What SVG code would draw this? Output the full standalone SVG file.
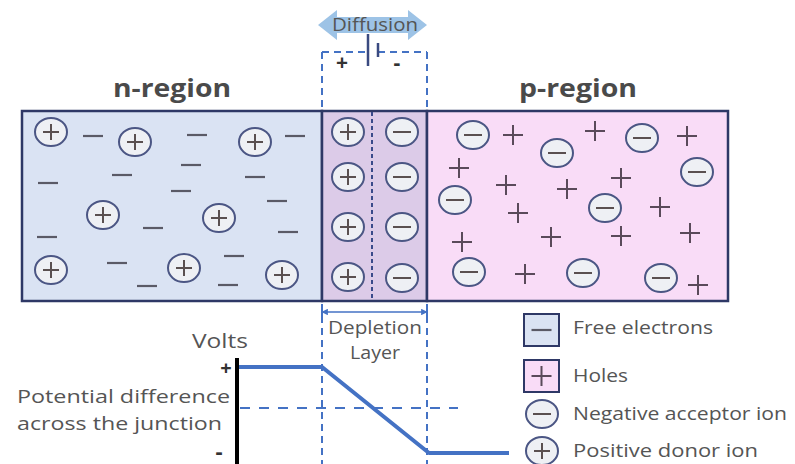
<svg xmlns="http://www.w3.org/2000/svg" width="795" height="464" viewBox="0 0 795 464">
  <style>
    .ion { fill: #eef0f4; stroke: #4b5684; stroke-width: 2; }
    .sign { stroke: #5a5050; stroke-width: 2; fill: none; }
    .elec { stroke: #5a5a66; stroke-width: 2.2; fill: none; }
    .hole { stroke: #5a4a5a; stroke-width: 2; fill: none; }
    .frame { stroke: #2e3866; stroke-width: 2.5; }
    .guide { stroke: #4472c4; stroke-width: 2; fill: none; stroke-dasharray: 7 5; }
    .lbl { font-family: "Open Sans", "Liberation Sans", sans-serif; fill: #555; }
    .pm { font-family: "Open Sans", "Liberation Sans", sans-serif; font-weight: bold; fill: #333; text-anchor: middle; }
    .title { font-family: "Open Sans", "Liberation Sans", sans-serif; font-weight: bold; font-size: 25px; fill: #4a4a4a; text-anchor: middle; }
  </style>
  <defs>
    <!-- ion symbols -->
    <g id="pion">
      <ellipse class="ion" rx="16" ry="14"/>
      <path class="sign" d="M-8 0H8M0 -8V8"/>
    </g>
    <g id="nion">
      <ellipse class="ion" rx="16" ry="14"/>
      <path class="sign" d="M-9 0H9"/>
    </g>
    <path id="e" class="elec" d="M-10 0H10"/>
    <path id="h" class="hole" d="M-10 0H10M0 -10V10"/>
    <marker id="dimL" viewBox="0 0 10 10" refX="1" refY="5" markerWidth="5" markerHeight="5" orient="auto">
      <path d="M10 0L0 5L10 10Z" fill="#4472c4"/>
    </marker>
    <marker id="dimR" viewBox="0 0 10 10" refX="9" refY="5" markerWidth="5" markerHeight="5" orient="auto">
      <path d="M0 0L10 5L0 10Z" fill="#4472c4"/>
    </marker>
  </defs>

  <rect width="795" height="464" fill="#ffffff"/>

  <!-- junction guide lines -->
  <g id="connectors">
    <path class="guide" d="M322 52V464M427 52V464"/>
    <path class="guide" d="M322 52H368M378 52H427"/>
    <!-- cell symbol -->
    <path d="M368 34V66" stroke="#3a4a80" stroke-width="2.5"/>
    <path d="M378 43V57" stroke="#3a4a80" stroke-width="2.5"/>
    <!-- depletion width -->
    <path d="M322 312H427" stroke="#4472c4" stroke-width="1.3" marker-start="url(#dimL)" marker-end="url(#dimR)"/>
    <path d="M322 305V319M427 305V319" stroke="#4472c4" stroke-width="2"/>
  </g>

  <!-- diffusion arrow -->
  <g id="diffusion">
    <path d="M318 25L337 10V17H408V10L427 25L408 40V33H337V40Z" fill="#9dc3e6"/>
    <text class="lbl" x="375" y="31" font-size="18" text-anchor="middle" textLength="86" lengthAdjust="spacingAndGlyphs" fill="#4a5570">Diffusion</text>
    <text class="pm" x="342" y="70" font-size="21">+</text>
    <text class="pm" x="397" y="70" font-size="21">-</text>
  </g>

  <text class="title" x="172" y="97" textLength="118" lengthAdjust="spacingAndGlyphs">n-region</text>
  <text class="title" x="578" y="97" textLength="118" lengthAdjust="spacingAndGlyphs">p-region</text>

  <!-- n-type region -->
  <g id="n-region">
    <rect x="22" y="111" width="300" height="190" fill="#dae3f3" class="frame"/>
    <use href="#pion" x="51" y="132"/>
    <use href="#pion" x="135" y="142"/>
    <use href="#pion" x="255" y="142"/>
    <use href="#pion" x="103" y="215"/>
    <use href="#pion" x="219" y="218"/>
    <use href="#pion" x="51" y="270"/>
    <use href="#pion" x="184" y="268"/>
    <use href="#pion" x="282" y="275"/>
    <use href="#e" x="93" y="136"/>
    <use href="#e" x="197" y="135"/>
    <use href="#e" x="295" y="136"/>
    <use href="#e" x="191" y="165"/>
    <use href="#e" x="122" y="175"/>
    <use href="#e" x="48" y="183"/>
    <use href="#e" x="255" y="177"/>
    <use href="#e" x="181" y="191"/>
    <use href="#e" x="277" y="201"/>
    <use href="#e" x="153" y="228"/>
    <use href="#e" x="47" y="237"/>
    <use href="#e" x="288" y="232"/>
    <use href="#e" x="234" y="256"/>
    <use href="#e" x="117" y="263"/>
    <use href="#e" x="147" y="286"/>
    <use href="#e" x="228" y="285"/>
  </g>

  <!-- depletion layer -->
  <g id="depletion">
    <rect x="322" y="111" width="105" height="190" fill="#dccbe8" class="frame"/>
    <path d="M372 112V300" stroke="#3a4a8a" stroke-width="2" stroke-dasharray="4 3"/>
    <use href="#pion" x="348" y="132"/>
    <use href="#pion" x="348" y="177"/>
    <use href="#pion" x="348" y="227"/>
    <use href="#pion" x="348" y="277"/>
    <use href="#nion" x="402" y="132"/>
    <use href="#nion" x="402" y="177"/>
    <use href="#nion" x="402" y="227"/>
    <use href="#nion" x="402" y="278"/>
  </g>

  <!-- p-type region -->
  <g id="p-region">
    <rect x="427" y="111" width="301" height="190" fill="#f9dcf7" class="frame"/>
    <use href="#nion" x="473" y="135"/>
    <use href="#nion" x="557" y="153"/>
    <use href="#nion" x="642" y="138"/>
    <use href="#nion" x="697" y="172"/>
    <use href="#nion" x="455" y="200"/>
    <use href="#nion" x="605" y="208"/>
    <use href="#nion" x="469" y="272"/>
    <use href="#nion" x="583" y="273"/>
    <use href="#nion" x="661" y="278"/>
    <use href="#h" x="513" y="135"/>
    <use href="#h" x="595" y="131"/>
    <use href="#h" x="687" y="136"/>
    <use href="#h" x="459" y="168"/>
    <use href="#h" x="506" y="185"/>
    <use href="#h" x="567" y="189"/>
    <use href="#h" x="621" y="178"/>
    <use href="#h" x="518" y="213"/>
    <use href="#h" x="660" y="207"/>
    <use href="#h" x="462" y="242"/>
    <use href="#h" x="551" y="237"/>
    <use href="#h" x="621" y="236"/>
    <use href="#h" x="690" y="233"/>
    <use href="#h" x="525" y="274"/>
    <use href="#h" x="698" y="285"/>
  </g>

  <g id="depletion-label">
    <text class="lbl" x="375" y="334" font-size="19" text-anchor="middle" textLength="94" lengthAdjust="spacingAndGlyphs" fill="#808080">Depletion</text>
    <text class="lbl" x="375" y="359" font-size="19" text-anchor="middle" textLength="50" lengthAdjust="spacingAndGlyphs" fill="#808080">Layer</text>
  </g>

  <!-- potential plot -->
  <g id="potential">
    <path d="M240 408H458" stroke="#4472c4" stroke-width="2" stroke-dasharray="10 9"/>
    <path d="M239 367H322L429 453H509" stroke="#4472c4" stroke-width="4" fill="none" stroke-linejoin="round"/>
    <path d="M237 358V464" stroke="#000" stroke-width="4"/>
    <text class="lbl" x="220" y="348" font-size="20" text-anchor="middle" textLength="56" lengthAdjust="spacingAndGlyphs">Volts</text>
    <text class="pm" x="226" y="375" font-size="20">+</text>
    <text class="pm" x="219" y="459" font-size="22">-</text>
    <text class="lbl" x="17" y="403" font-size="19" textLength="213" lengthAdjust="spacingAndGlyphs">Potential difference</text>
    <text class="lbl" x="17" y="430" font-size="19" textLength="205" lengthAdjust="spacingAndGlyphs">across the junction</text>
  </g>

  <!-- legend -->
  <g id="legend-electrons">
    <rect x="524" y="314" width="35" height="32" fill="#dae3f3" stroke="#2e3866" stroke-width="2"/>
    <use href="#e" x="541.5" y="330"/>
    <text class="lbl" x="573" y="334" font-size="18" textLength="140" lengthAdjust="spacingAndGlyphs">Free electrons</text>
  </g>
  <g id="legend-holes">
    <rect x="524" y="360" width="35" height="32" fill="#f9dcf7" stroke="#2e3866" stroke-width="2"/>
    <use href="#h" x="541.5" y="376"/>
    <text class="lbl" x="573" y="382" font-size="18" textLength="55" lengthAdjust="spacingAndGlyphs">Holes</text>
  </g>
  <g id="legend-acceptor">
    <use href="#nion" x="542" y="414"/>
    <text class="lbl" x="573" y="420" font-size="18" textLength="214" lengthAdjust="spacingAndGlyphs">Negative acceptor ion</text>
  </g>
  <g id="legend-donor">
    <use href="#pion" x="542" y="451"/>
    <text class="lbl" x="573" y="457" font-size="18" textLength="185" lengthAdjust="spacingAndGlyphs">Positive donor ion</text>
  </g>
</svg>
